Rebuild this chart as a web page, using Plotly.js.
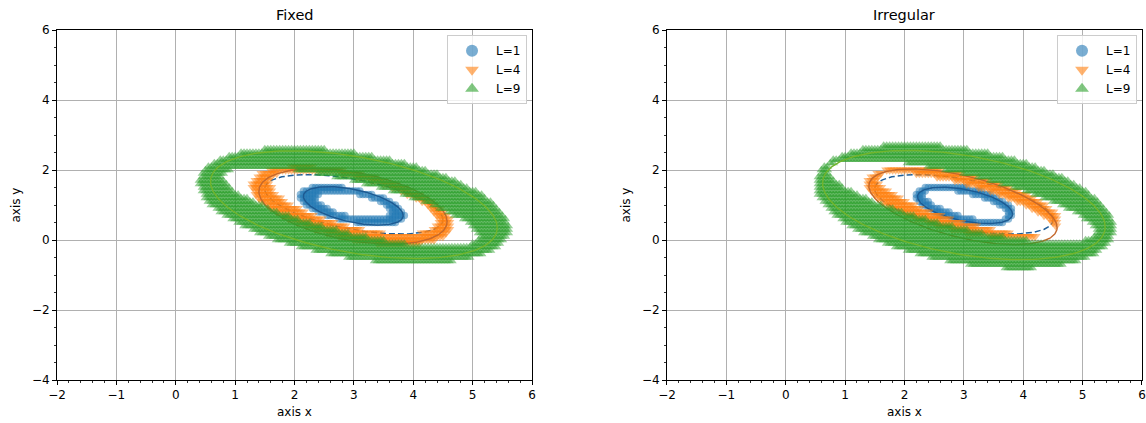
<!DOCTYPE html>
<html>
<head>
<meta charset="utf-8">
<script src="https://cdn.plot.ly/plotly-3.0.1.min.js"></script>
<style>html,body{margin:0;padding:0;background:#fff;}#chart{width:1146px;height:423px;}</style>
</head>
<body>
<div id="chart"></div>
<script>
// ---- data ----
const panelTitles = ["Fixed", "Irregular"];
const levelNames = ["L=1", "L=4", "L=9"];
const levelColors = ["#1f77b4", "#ff7f0e", "#2ca02c"];
const levelSymbols = ["circle", "triangle-down", "triangle-up"];
const xTicks = [-2, -1, 0, 1, 2, 3, 4, 5, 6];
const yTicks = [-4, -2, 0, 2, 4, 6];
const gridStep = [0.05, 0.1];   // spacing of the evaluated lattice

// band edges as seen: [cx, cy, x half-extent, y half-extent, tilt]
const fixedOuter = [
  [2.96, 0.99, 0.95, 0.65, -0.50],
  [2.96, 0.985, 1.73, 1.225, -0.50],
  [3.00, 0.985, 2.67, 1.755, -0.40]
];
const fixedInner = [
  [2.99, 1.00, 0.56, 0.29, -0.50],
  [3.00, 1.08, 1.36, 0.82, -0.60],
  [2.95, 0.95, 2.10, 1.04, -0.75]
];
const irregOuter = [
  [3.015, 1.01, 0.885, 0.68, -0.45],
  [2.985, 1.055, 1.665, 1.105, -0.55],
  [3.015, 0.965, 2.565, 1.875, -0.36]
];
const irregInner = [
  [3.03, 1.00, 0.645, 0.355, -0.65],
  [3.03, 1.04, 1.43, 0.80, -0.78],
  [2.96, 1.12, 2.20, 1.08, -0.75]
];
// contour lines: [cx, cy, x half-extent, y half-extent, tilt]
const fixedCurves = [
  [2.99, 0.975, 0.84, 0.55, -0.50],
  [2.985, 0.96, 1.585, 1.08, -0.40],
  [3.00, 1.01, 2.415, 1.54, -0.43]
];
const irregCurves = [
  [3.02, 0.99, 0.80, 0.52, -0.48],
  [2.985, 0.95, 1.585, 1.08, -0.55],
  [3.00, 1.00, 2.38, 1.56, -0.40]
];
const analyticCurve = [3.00, 1.02, 1.50, 0.85, -0.52];
const curveColors = ["#1d5a92", "#c4682c", "#72b52c"];

// ---- drawing ----
const pxPerX = 475 / 8, pxPerY = 350 / 10, markerPad = 3.5;
const padX = markerPad / pxPerX, padY = markerPad / pxPerY;

function inside(e, x, y, dx, dy) {
  const u = (x - e[0]) / (e[2] + dx), v = (y - e[1]) / (e[3] + dy), r = e[4];
  return (u * u - 2 * r * u * v + v * v) / (1 - r * r) <= 1;
}
function bandPoints(outer, inner) {
  const xs = [], ys = [];
  const ni = Math.round(8 / gridStep[0]), nj = Math.round(10 / gridStep[1]);
  for (let i = 0; i <= ni; i++) {
    for (let j = 0; j <= nj; j++) {
      const x = -2 + i * gridStep[0], y = -4 + j * gridStep[1];
      if (inside(outer, x, y, -padX, -padY) && !inside(inner, x, y, padX, padY)) { xs.push(x); ys.push(y); }
    }
  }
  return [xs, ys];
}
function curve(e) {
  const xs = [], ys = [];
  const s = Math.sqrt(1 - e[4] * e[4]);
  for (let k = 0; k <= 240; k++) {
    const t = 2 * Math.PI * k / 240;
    xs.push(e[0] + e[2] * Math.cos(t));
    ys.push(e[1] + e[3] * (e[4] * Math.cos(t) + s * Math.sin(t)));
  }
  return [xs, ys];
}

const traces = [];
const panels = [[fixedOuter, fixedInner, fixedCurves], [irregOuter, irregInner, irregCurves]];
const markerSizes = [7.5, 9.5, 8.5];
panels.forEach((p, pi) => {
  const xa = pi === 0 ? "x" : "x2", ya = pi === 0 ? "y" : "y2", lg = pi === 0 ? "legend" : "legend2";
  for (let L = 0; L < 3; L++) {
    const [bx, by] = bandPoints(p[0][L], p[1][L]);
    traces.push({
      type: "scatter", mode: "markers", x: bx, y: by, xaxis: xa, yaxis: ya, showlegend: false,
      marker: { symbol: levelSymbols[L], color: levelColors[L], size: markerSizes[L], opacity: 0.5, line: { width: 0 } },
      hoverinfo: "skip"
    });
    const [cx, cy] = curve(p[2][L]);
    traces.push({
      type: "scatter", mode: "lines", x: cx, y: cy, xaxis: xa, yaxis: ya, showlegend: false,
      line: { color: curveColors[L], width: 1.4 }, hoverinfo: "skip"
    });
    if (L === 0) {
      const [ax, ay] = curve(analyticCurve);
      traces.push({
        type: "scatter", mode: "lines", x: ax, y: ay, xaxis: xa, yaxis: ya, showlegend: false,
        line: { color: "#1f5f9a", width: 1.5, dash: "6px,3px" }, hoverinfo: "skip"
      });
    }
  }
  // legend entries
  for (let L = 0; L < 3; L++) {
    traces.push({
      type: "scatter", mode: "markers", x: [null], y: [null], xaxis: xa, yaxis: ya,
      name: levelNames[L], legend: lg, showlegend: true,
      marker: { symbol: levelSymbols[L], color: levelColors[L], size: 8, opacity: 0.6, line: { width: 0 } },
      hoverinfo: "skip"
    });
  }
});

const font = { family: "DejaVu Sans, sans-serif", size: 12, color: "#000" };
function xAxis(domain, anchor) {
  return {
    domain: domain, anchor: anchor, range: [-2, 6], tickvals: xTicks, ticktext: xTicks.map(v => v < 0 ? "\u2212" + Math.abs(v) : String(v)),
    showgrid: true, gridcolor: "#b0b0b0", gridwidth: 1, zeroline: false,
    showline: true, linecolor: "#000", linewidth: 1, mirror: true,
    ticks: "outside", ticklen: 4, tickwidth: 1, tickcolor: "#000", tickfont: font,
    minor: { dtick: 0.2, tick0: 0, ticks: "outside", ticklen: 2.4, tickwidth: 0.8, tickcolor: "#000", showgrid: false },
    title: { text: "axis x", font: font, standoff: 6 }
  };
}
function yAxis(anchor) {
  return {
    domain: [0, 1], anchor: anchor, range: [-4, 6], tickvals: yTicks, ticktext: yTicks.map(v => v < 0 ? "\u2212" + Math.abs(v) : String(v)),
    showgrid: true, gridcolor: "#b0b0b0", gridwidth: 1, zeroline: false,
    showline: true, linecolor: "#000", linewidth: 1, mirror: true,
    ticks: "outside", ticklen: 4, tickwidth: 1, tickcolor: "#000", tickfont: font,
    minor: { dtick: 0.5, tick0: 0, ticks: "outside", ticklen: 2.4, tickwidth: 0.8, tickcolor: "#000", showgrid: false },
    title: { text: "axis y", font: font, standoff: 8 }
  };
}
const legendBase = {
  yanchor: "top", y: 0.985, xanchor: "right", bgcolor: "rgba(255,255,255,0.8)",
  bordercolor: "#cccccc", borderwidth: 1, font: font, itemsizing: "constant", itemwidth: 38, tracegroupgap: 0
};
const layout = {
  width: 1146, height: 423, margin: { l: 57, r: 4, t: 30, b: 43 },
  paper_bgcolor: "#fff", plot_bgcolor: "#fff", font: font, showlegend: true,
  xaxis: xAxis([0, 0.4378], "y"), yaxis: yAxis("x"),
  xaxis2: xAxis([0.5622, 1], "y2"), yaxis2: yAxis("x2"),
  legend: Object.assign({}, legendBase, { x: 0.4332 }),
  legend2: Object.assign({}, legendBase, { x: 0.9954 }),
  annotations: panelTitles.map((t, i) => ({
    text: t, xref: "paper", yref: "paper", x: i === 0 ? 0.2189 : 0.7811, y: 1, yanchor: "bottom", xanchor: "center",
    yshift: 5, showarrow: false, font: { family: "DejaVu Sans, sans-serif", size: 14.5, color: "#000" }
  }))
};
Plotly.newPlot("chart", traces, layout, { staticPlot: true, displayModeBar: false });
</script>
</body>
</html>
